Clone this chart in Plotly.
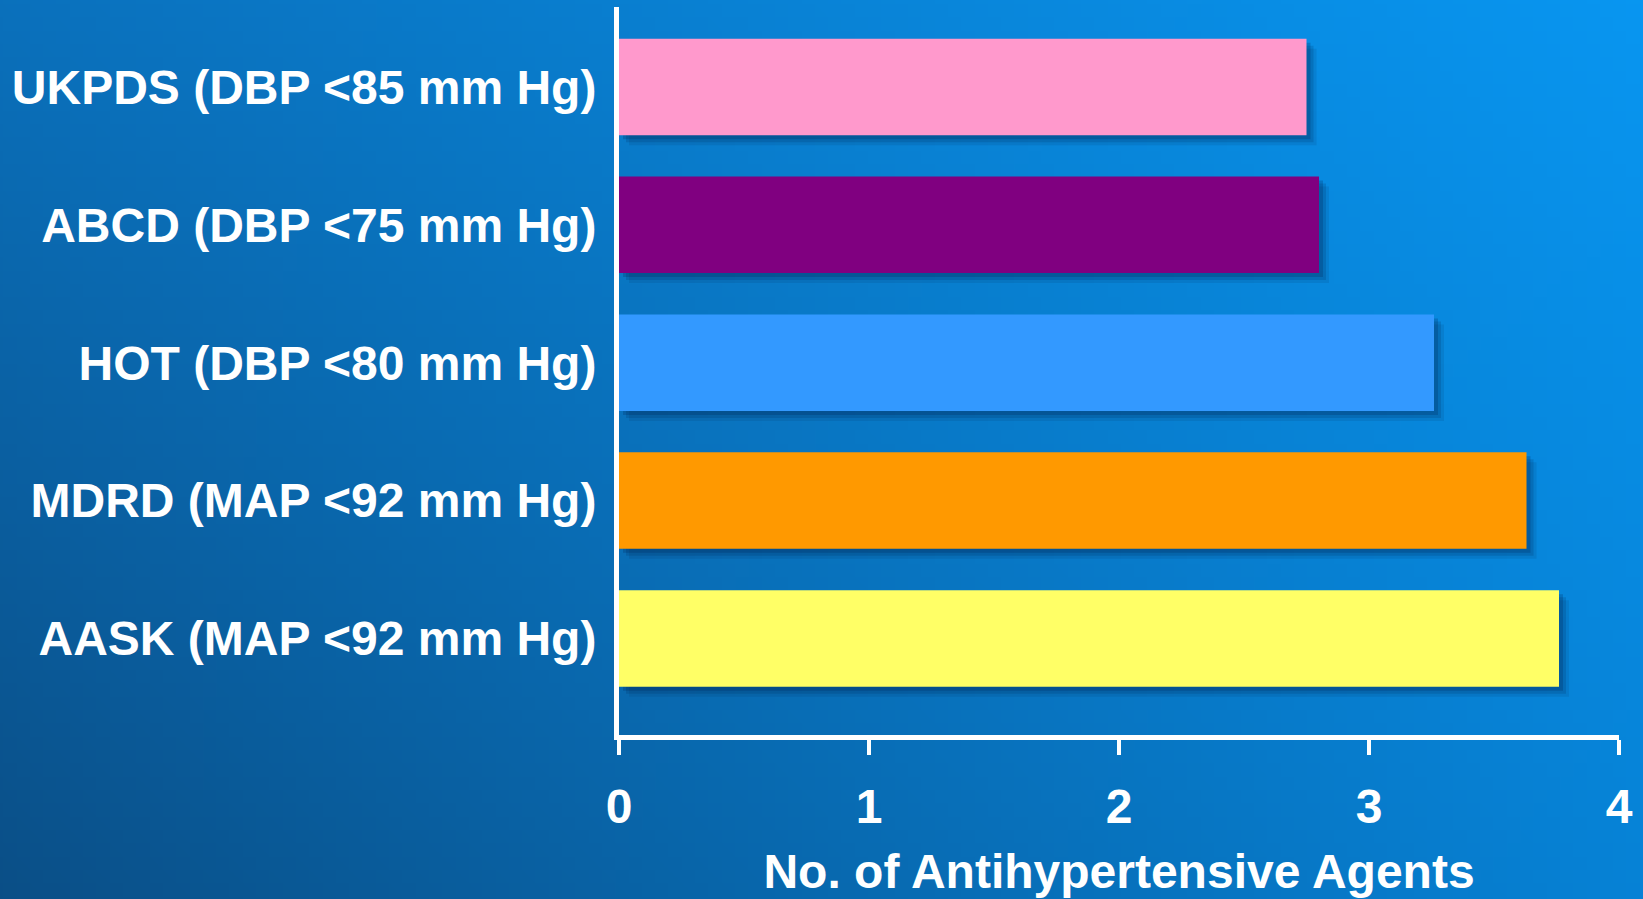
import base64
import struct
import zlib

import plotly.graph_objects as go

# ---- data ----
categories = [
    "AASK (MAP <92 mm Hg)",
    "MDRD (MAP <92 mm Hg)",
    "HOT (DBP <80 mm Hg)",
    "ABCD (DBP <75 mm Hg)",
    "UKPDS (DBP <85 mm Hg)",
]
values = [3.76, 3.63, 3.26, 2.80, 2.75]
bar_colors = ["#FFFF66", "#FF9900", "#3399FF", "#800080", "#FF99CC"]
x_ticks = [0, 1, 2, 3, 4]
x_title = "No. of Antihypertensive Agents"

# ---- background gradient (PNG built in memory) ----
W, H = 128, 72
TL, TR = (10, 113, 189), (8, 151, 242)
BL, BR = (10, 77, 132), (6, 130, 214)


def gradient_png(w, h):
    raw = bytearray()
    for yy in range(h):
        raw.append(0)
        v = yy / (h - 1)
        for xx in range(w):
            u = xx / (w - 1)
            for c in range(3):
                val = (TL[c] * (1 - u) * (1 - v) + TR[c] * u * (1 - v)
                       + BL[c] * (1 - u) * v + BR[c] * u * v)
                raw.append(max(0, min(255, int(round(val)))))

    def chunk(tag, data):
        body = tag + data
        return struct.pack(">I", len(data)) + body + struct.pack(">I", zlib.crc32(body) & 0xFFFFFFFF)

    png = b"\x89PNG\r\n\x1a\n"
    png += chunk(b"IHDR", struct.pack(">IIBBBBB", w, h, 8, 2, 0, 0, 0))
    png += chunk(b"IDAT", zlib.compress(bytes(raw), 9))
    png += chunk(b"IEND", b"")
    return "data:image/png;base64," + base64.b64encode(png).decode()


FIG_W, FIG_H = 1643, 899
ML, MR, MT, MB = 619, 24, 7, 164
PW, PH = FIG_W - ML - MR, FIG_H - MT - MB
BLEED = 30  # extra pixels of background beyond each edge

BAR_W = 0.70
px_x = 4.0 / PW            # data units per pixel on x
px_y = 5.28 / PH           # category units per pixel on y

FONT = dict(family="Liberation Sans, Arial, sans-serif", size=48, color="white", weight="bold")

fig = go.Figure()

# soft drop shadows
for shift, alpha in [(10, 0.10), (7, 0.15), (4, 0.2)]:
    fig.add_trace(go.Bar(
        y=categories,
        x=[v for v in values],
        base=shift * px_x,
        orientation="h",
        width=BAR_W,
        offset=-BAR_W / 2 - shift * px_y,
        marker=dict(color=f"rgba(0,25,70,{alpha})", line=dict(width=0)),
        hoverinfo="skip",
        showlegend=False,
    ))

fig.add_trace(go.Bar(
    y=categories,
    x=values,
    orientation="h",
    width=BAR_W,
    marker=dict(color=bar_colors, line=dict(width=0)),
    showlegend=False,
))

fig.update_layout(
    width=FIG_W,
    height=FIG_H,
    margin=dict(l=ML, r=MR, t=MT, b=MB, pad=0),
    paper_bgcolor="#0a5f9f",
    plot_bgcolor="rgba(0,0,0,0)",
    barmode="overlay",
    images=[dict(
        source=gradient_png(W, H),
        xref="paper", yref="paper",
        x=-(ML + BLEED) / PW, y=1 + (MT + BLEED) / PH,
        sizex=(FIG_W + 2 * BLEED) / PW, sizey=(FIG_H + 2 * BLEED) / PH,
        xanchor="left", yanchor="top",
        sizing="stretch", layer="below",
    )],
    xaxis=dict(
        range=[0, 4],
        tickvals=x_ticks,
        ticktext=[str(t) for t in x_ticks],
        showgrid=False, zeroline=False,
        showline=True, linecolor="white", linewidth=5,
        ticks="outside", ticklen=15, tickwidth=4, tickcolor="white",
        tickfont=FONT,
        ticklabelstandoff=10,
        title=dict(text=x_title, font=FONT, standoff=24),
        fixedrange=True,
    ),
    yaxis=dict(
        range=[-0.70, 4.58],
        type="category",
        categoryorder="array",
        categoryarray=categories,
        showgrid=False, zeroline=False,
        showline=True, linecolor="white", linewidth=5,
        ticks="", tickfont=FONT,
        ticklabelstandoff=8,
        fixedrange=True,
    ),
)

fig.write_html(
    "out.html",
    config={"displayModeBar": False},
    post_script="document.body.style.margin='0';document.body.style.overflow='hidden';",
)
